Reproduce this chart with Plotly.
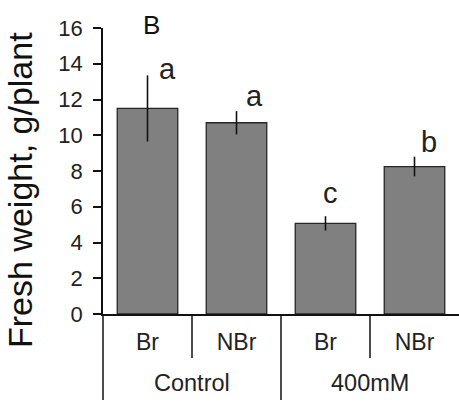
import plotly.graph_objects as go

treatments = ["Control", "Control", "400mM", "400mM"]
genotypes = ["Br", "NBr", "Br", "NBr"]
fresh_weight = [11.5, 10.7, 5.07, 8.25]
err_plus = [1.85, 0.65, 0.4, 0.55]
letters = ["a", "a", "c", "b"]
letter_y = [13.69, 12.18, 6.75, 9.61]
letter_dx = [20, 18, 5, 14]
y_ticks = [0, 2, 4, 6, 8, 10, 12, 14, 16]

xs = list(range(len(genotypes)))
font_main = "Liberation Sans, Arial, sans-serif"

fig = go.Figure()
fig.add_trace(go.Bar(
    x=xs, y=fresh_weight, width=0.68,
    marker=dict(color="#808080", line=dict(color="#262626", width=1.3)),
    error_y=dict(type="data", array=err_plus, visible=True,
                 color="#111111", thickness=1.6, width=0),
))

annotations = []
for i, (lt, ly, dx) in enumerate(zip(letters, letter_y, letter_dx)):
    annotations.append(dict(x=xs[i], y=ly, xref="x", yref="y", text=lt,
                            showarrow=False, xshift=dx, yanchor="middle",
                            font=dict(family=font_main, size=29, color="#222222")))

# treatment group labels (outer row)
groups = []
for i, t in enumerate(treatments):
    if not groups or groups[-1][0] != t:
        groups.append([t, [i]])
    else:
        groups[-1][1].append(i)
for t, idx in groups:
    annotations.append(dict(x=sum(idx) / len(idx), y=-0.242, xref="x", yref="paper",
                            text=t, showarrow=False, yanchor="middle",
                            font=dict(family=font_main, size=23.5, color="#222222")))

annotations.append(dict(x=0, y=0.4336, xref="paper", yref="paper",
                        text="Fresh weight, g/plant", textangle=-90,
                        showarrow=False, xanchor="center", yanchor="middle", xshift=-83,
                        font=dict(family=font_main, size=34, color="#111111")))
annotations.append(dict(x=0.04, y=1.009, xref="x", yref="paper", text="B",
                        showarrow=False, xanchor="center", yanchor="middle",
                        font=dict(family=font_main, size=26, color="#111111")))

shapes = []
line_style = dict(color="#111111", width=1.5)
# y-axis extension below plot
shapes.append(dict(type="line", xref="paper", yref="paper", x0=0, x1=0,
                   y0=0, y1=-0.3007, line=line_style))
for i in range(1, len(genotypes)):
    outer = treatments[i] != treatments[i - 1]
    shapes.append(dict(type="line", xref="x", yref="paper", x0=i - 0.5, x1=i - 0.5,
                       y0=0, y1=-0.3007 if outer else -0.1538, line=line_style))

fig.update_layout(
    width=459, height=403,
    margin=dict(l=103, r=0, t=28, b=89),
    paper_bgcolor="white", plot_bgcolor="white",
    showlegend=False,
    annotations=annotations, shapes=shapes,
    xaxis=dict(range=[-0.5, 3.5], tickvals=xs, ticktext=genotypes,
               showline=True, linecolor="#111111", linewidth=1.5,
               ticks="", showgrid=False, zeroline=False,
               tickfont=dict(family=font_main, size=23, color="#222222"),
               ticklabelstandoff=7),
    yaxis=dict(range=[0, 16], tickvals=y_ticks,
               showline=True, linecolor="#111111", linewidth=1.5,
               ticks="outside", ticklen=8, tickwidth=1.5, tickcolor="#111111",
               showgrid=False, zeroline=False,
               tickfont=dict(family=font_main, size=22, color="#222222"),
               ticklabelstandoff=6),
)

fig.write_html("out.html")
